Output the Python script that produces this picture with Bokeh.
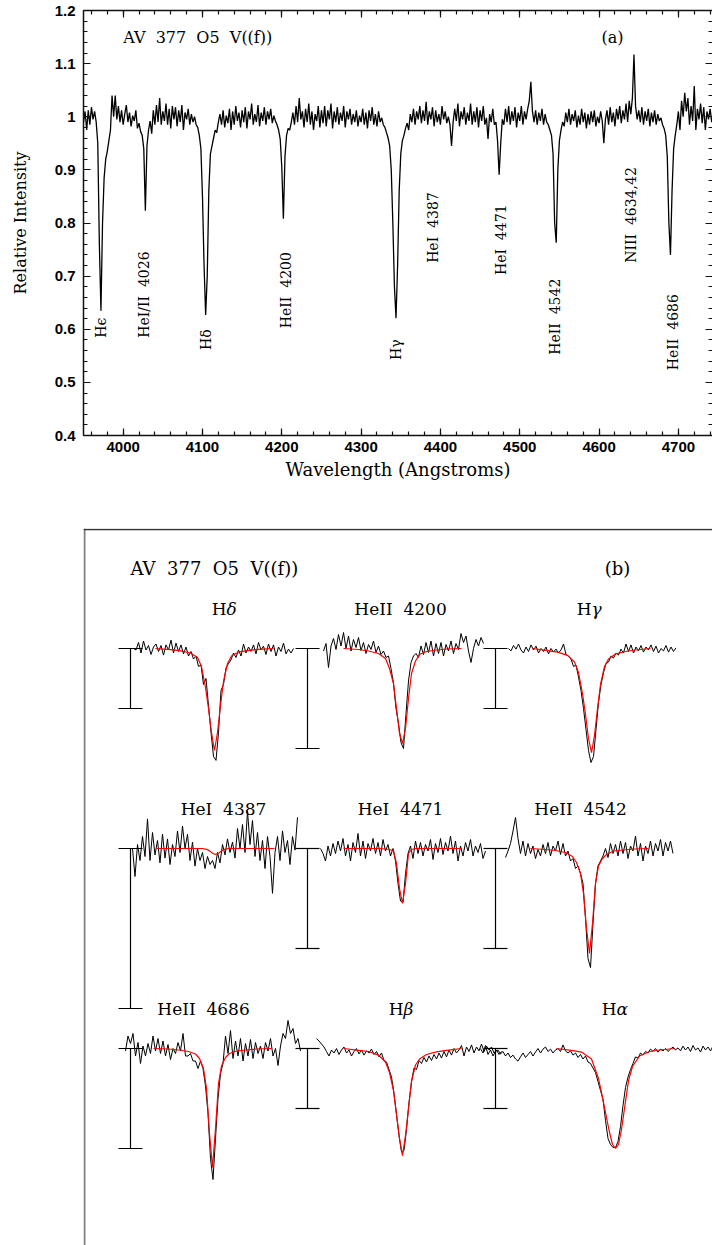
import numpy as np
from bokeh.plotting import figure
from bokeh.models import Range1d, LinearAxis, FixedTicker, Span, ColumnDataSource
from bokeh.layouts import column
from bokeh.embed import file_html
from bokeh.resources import INLINE
from bokeh.core.properties import value

# ---------------- Panel (a): blue spectrum, 3950-4744 A ----------------
WAVE_START = 3950.0
WAVE_STEP = 2.0
FLUX_A = [
    # 3950-4048
    0.990, 1.010, 0.975, 1.012, 0.985, 1.018, 0.995, 1.010, 0.990, 0.950,
    0.760, 0.635, 0.800, 0.885, 0.920, 0.935, 0.955, 0.975, 1.040, 1.000,
    1.040, 0.995, 1.020, 0.990, 1.012, 0.985, 1.005, 1.022, 0.990, 1.008,
    0.982, 1.002, 0.992, 1.012, 0.978, 0.988, 0.972, 0.965, 0.940, 0.823,
    0.945, 0.975, 0.992, 0.968, 1.012, 0.985, 1.022, 0.990, 1.035, 0.985,
    # 4050-4148
    1.010, 0.992, 1.025, 0.985, 1.015, 0.978, 1.020, 0.995, 1.018, 0.982,
    1.012, 0.990, 1.022, 0.975, 1.008, 0.995, 1.015, 0.985, 1.005, 0.990,
    1.000, 0.985, 0.980, 0.965, 0.940, 0.850, 0.720, 0.627, 0.700, 0.860,
    0.930, 0.945, 0.960, 0.975, 0.970, 0.990, 1.005, 0.985, 1.012, 0.980,
    1.002, 0.988, 1.015, 0.975, 1.010, 0.985, 1.020, 0.992, 1.008, 0.980,
    # 4150-4248
    1.012, 0.990, 1.018, 0.978, 1.010, 0.995, 1.025, 0.985, 1.005, 0.990,
    1.022, 0.982, 1.008, 0.992, 1.018, 0.985, 1.010, 0.995, 1.015, 0.988,
    1.002, 0.992, 0.985, 0.975, 0.958, 0.905, 0.808, 0.925, 0.965, 0.978,
    0.975, 0.990, 1.008, 0.985, 1.020, 0.990, 1.035, 0.995, 1.010, 0.980,
    1.015, 0.990, 1.025, 0.985, 1.010, 0.975, 1.005, 0.992, 1.020, 0.980,
    # 4250-4348
    1.012, 0.988, 1.020, 0.982, 1.012, 0.995, 1.025, 0.978, 1.010, 0.990,
    1.018, 0.985, 1.008, 0.992, 1.020, 0.980, 1.010, 0.995, 1.015, 0.985,
    1.005, 0.990, 1.012, 0.982, 1.002, 0.990, 1.015, 0.985, 1.008, 0.978,
    1.012, 0.992, 1.018, 0.985, 1.005, 0.982, 1.010, 0.990, 0.998, 0.985,
    0.980, 0.970, 0.960, 0.945, 0.900, 0.800, 0.680, 0.621, 0.720, 0.860,
    # 4350-4448
    0.930, 0.955, 0.965, 0.978, 0.988, 0.975, 1.005, 0.990, 1.015, 0.985,
    1.010, 0.995, 1.020, 0.988, 1.012, 0.992, 1.028, 0.985, 1.010, 0.995,
    1.018, 0.982, 1.012, 0.990, 1.005, 0.985, 1.020, 0.995, 1.010, 0.988,
    1.000, 0.985, 0.945, 0.990, 1.015, 0.992, 1.025, 0.982, 1.010, 0.995,
    1.018, 0.985, 1.008, 0.992, 1.025, 0.985, 1.010, 0.990, 1.018, 0.980,
    # 4450-4548
    1.012, 0.992, 1.020, 0.985, 0.998, 0.958, 1.005, 0.990, 1.015, 0.985,
    0.990, 0.955, 0.891, 0.950, 0.995, 0.985, 1.015, 0.990, 1.020, 0.985,
    1.010, 0.992, 1.018, 0.980, 1.008, 0.992, 1.020, 0.985, 1.010, 0.995,
    1.015, 1.030, 1.066, 1.010, 0.990, 1.012, 0.985, 1.008, 0.992, 1.015,
    0.985, 1.005, 0.990, 0.985, 0.975, 0.965, 0.930, 0.800, 0.763, 0.900,
    # 4550-4648
    0.955, 0.975, 0.990, 0.982, 1.008, 0.990, 1.015, 0.985, 1.005, 0.992,
    1.012, 0.980, 1.002, 0.985, 1.015, 0.990, 1.008, 0.978, 1.005, 0.985,
    1.010, 0.990, 1.012, 0.982, 1.000, 0.988, 1.010, 0.992, 0.950, 0.995,
    1.012, 0.985, 1.018, 0.990, 1.008, 0.982, 1.015, 0.995, 1.020, 0.988,
    1.012, 0.995, 1.025, 0.990, 1.030, 1.005, 1.035, 1.117, 1.020, 0.995,
    # 4650-4744
    1.012, 0.990, 1.018, 0.985, 1.010, 0.992, 1.015, 0.982, 1.008, 0.990,
    1.012, 0.985, 1.005, 0.992, 0.998, 0.985, 0.978, 0.965, 0.925, 0.800,
    0.740, 0.860, 0.940, 0.965, 0.985, 1.010, 0.975, 1.030, 1.000, 1.045,
    1.010, 1.035, 0.985, 1.020, 0.992, 1.058, 0.975, 1.015, 0.995, 1.025,
    0.988, 1.018, 0.975, 1.010, 0.995, 1.015, 0.990, 1.005,
]

GAP = " \u00a0"   # wide gap between ion and wavelength
LINE_NAMES = ["H\u03f5", "HeI/II" + GAP + "4026", "H\u03b4", "HeII" + GAP + "4200", "H\u03b3",
              "HeI" + GAP + "4387", "HeI" + GAP + "4471", "HeII" + GAP + "4542",
              "NIII" + GAP + "4634,42", "HeII" + GAP + "4686"]
# where each identification is written (wavelength, flux at the text's start)
LINE_LABEL_WAVE = [3972, 4026, 4105, 4205, 4344, 4390, 4476, 4545, 4640, 4693]
LINE_LABEL_FLUX = [0.584, 0.584, 0.561, 0.602, 0.542, 0.725, 0.702, 0.552, 0.725, 0.523]

Y_TICKS = [0.4, 0.5, 0.6, 0.7, 0.8, 0.9, 1.0, 1.1, 1.2]
Y_TICK_TEXT = ["0.4", "0.5", "0.6", "0.7", "0.8", "0.9", "1", "1.1", "1.2"]
X_TICKS = [4000, 4100, 4200, 4300, 4400, 4500, 4600, 4700]

# ---------------- Panel (b): line profiles with model fits ----------------
OBS_STEP = 1.25          # A per observed sample
# observed normalised flux (x1000)
OBS_HDELTA = [1000, 995, 1020, 985, 1025, 995, 1010, 980, 1005, 1015, 990, 1010, 978,
              1012, 995, 1028, 985, 1018, 990, 1012, 982, 1005, 975, 990, 965, 975,
              940, 945, 880, 900, 810, 720, 640, 627, 720, 860, 880, 935, 950, 962,
              985, 970, 995, 975, 1015, 985, 1005, 990, 1012, 982, 1020, 995, 1008,
              980, 1015, 990, 1012, 975, 1005, 990, 1018, 982, 998, 985, 1000]
OBS_HEII4200 = [995, 1010, 962, 1005, 1020, 998, 1028, 1005, 1032, 1000, 1025, 995, 1018,
                1002, 1022, 996, 1012, 990, 1008, 998, 1015, 992, 1005, 988, 995, 982,
                985, 960, 930, 880, 850, 812, 800, 870, 935, 972, 985, 990, 982, 1005,
                988, 1012, 992, 1015, 985, 1010, 990, 1012, 985, 1008, 995, 1015, 990,
                1010, 998, 1030, 1012, 1025, 995, 972, 1000, 1018, 1005, 1022, 1010]
OBS_HGAMMA = [1000, 992, 1010, 998, 1015, 995, 985, 1005, 990, 1012, 995, 1008, 985,
              1000, 990, 1005, 982, 1000, 988, 998, 985, 995, 1015, 980, 975, 965,
              940, 945, 905, 860, 800, 730, 660, 620, 640, 730, 820, 880, 920, 950,
              955, 975, 968, 985, 978, 998, 985, 1015, 990, 1012, 985, 1005, 992,
              1010, 988, 1005, 995, 1012, 990, 1008, 985, 1000, 992, 1010, 988, 1005,
              990, 1002]
OBS_HEI4387 = [1000, 965, 1005, 985, 1015, 990, 1037, 985, 1020, 992, 1010, 982, 1018,
               988, 1012, 980, 1005, 990, 1022, 995, 1028, 1000, 1018, 985, 1008, 978,
               1000, 985, 995, 975, 990, 980, 985, 975, 995, 982, 1005, 992, 1012, 995,
               1008, 988, 1025, 1000, 1030, 995, 1047, 1005, 1035, 990, 1020, 985, 1010,
               975, 1015, 990, 944, 995, 1015, 985, 1022, 995, 1010, 980, 1015, 998, 1039]
OBS_HEI4471 = [1000, 990, 975, 1005, 985, 1010, 990, 1015, 995, 1020, 985, 1008, 975,
               1012, 992, 1030, 985, 1015, 980, 1010, 995, 1020, 990, 1012, 985, 1018,
               995, 1008, 985, 1000, 975, 930, 895, 892, 950, 990, 1005, 980, 1015, 990,
               1012, 985, 1008, 995, 1018, 978, 1010, 992, 1020, 988, 1012, 995, 1025,
               990, 1015, 975, 1005, 985, 1012, 995, 1018, 985, 1005, 992, 1010, 980, 995]
OBS_HEII4542 = [982, 995, 1010, 1035, 1062, 1020, 990, 1015, 985, 1010, 990, 1005, 980,
                998, 985, 1008, 990, 1012, 985, 1005, 995, 1015, 988, 1010, 985, 995,
                975, 980, 960, 965, 950, 930, 860, 780, 762, 850, 930, 965, 975, 985,
                1000, 982, 1010, 990, 1008, 985, 1015, 990, 1012, 980, 1005, 995, 1025,
                985, 1010, 975, 1005, 990, 1015, 985, 1010, 995, 1018, 985, 1012, 995,
                1015, 990]
OBS_HEII4686 = [995, 1025, 1010, 1030, 985, 1012, 970, 1005, 985, 1010, 990, 1025, 995,
                1020, 990, 1015, 985, 1008, 978, 1000, 990, 1012, 995, 1030, 985, 985,
                990, 975, 975, 960, 975, 960, 925, 870, 780, 738, 820, 900, 950, 970,
                1025, 990, 1036, 980, 1015, 985, 1020, 975, 1010, 985, 1018, 980, 1012,
                990, 1005, 980, 1012, 995, 1020, 985, 1000, 966, 1005, 1030, 1020, 1056,
                1030, 1040, 1010, 1020, 995]
OBS_HBETA = [1033, 1025, 1015, 1005, 990, 975, 995, 985, 1000, 980, 995, 1005, 985,
             995, 975, 990, 1000, 982, 995, 978, 992, 985, 998, 980, 990, 972, 985,
             960, 955, 930, 905, 850, 780, 710, 655, 660, 730, 820, 890, 935, 930,
             960, 950, 970, 955, 975, 960, 980, 965, 985, 968, 990, 972, 995, 978,
             1000, 985, 995, 1010, 975, 1005, 990, 1012, 985, 1005, 992, 1015, 990,
             1008, 995, 1005, 985, 995, 980, 990]
OBS_HALPHA = [1000, 985, 1010, 980, 995, 975, 990, 995, 982, 990, 975, 985, 970, 978,
              965, 958, 972, 985, 970, 980, 990, 975, 988, 1000, 985, 998, 1005, 990,
              998, 985, 995, 1000, 990, 1012, 992, 985, 992, 978, 985, 970, 980, 965,
              975, 955, 950, 935, 920, 890, 860, 830, 760, 700, 680, 670, 670, 690,
              740, 810, 870, 905, 930, 950, 972, 968, 985, 978, 990, 985, 998, 990,
              1000, 988, 998, 992, 1000, 990, 998, 1005, 995, 1002, 992, 1008, 995,
              1005, 990, 1010, 995, 1002, 988, 1008, 995, 1005, 992, 1008, 995]
# wavelength offset (A) of the first observed sample of each profile
OBS_START = [-40.5, -39.5, -41.5, -41.5, -41.0, -42.0, -43.5, -43.0, -67.5]

# model fit, sampled at these offsets from line centre (A)
FIT_DLAM = [-29.5, -22, -17, -12, -8.5, -6.5, -4.5, -3, -1.5, 0,
            1.5, 3, 4.5, 6.5, 8.5, 12, 17, 22, 29.5]
FIT_HDELTA = [1.0, 0.996, 0.992, 0.985, 0.970, 0.940, 0.870, 0.800, 0.720, 0.660,
              0.720, 0.810, 0.890, 0.950, 0.975, 0.988, 0.994, 0.997, 1.0]
FIT_HEII4200 = [1.0, 0.998, 0.995, 0.990, 0.980, 0.960, 0.930, 0.880, 0.830, 0.810,
                0.840, 0.900, 0.950, 0.975, 0.988, 0.994, 0.997, 0.999, 1.0]
FIT_HGAMMA = [1.0, 0.993, 0.988, 0.977, 0.955, 0.920, 0.850, 0.780, 0.700, 0.653,
              0.710, 0.800, 0.880, 0.940, 0.965, 0.982, 0.990, 0.995, 1.0]
FIT_HEI4387 = [1.0, 1.0, 1.0, 1.0, 1.0, 1.0, 0.999, 0.997, 0.994, 0.9925,
               0.994, 0.997, 0.999, 1.0, 1.0, 1.0, 1.0, 1.0, 1.0]
FIT_HEI4471 = [1.0, 1.0, 1.0, 1.0, 0.999, 0.998, 0.995, 0.970, 0.920, 0.890,
               0.930, 0.990, 0.998, 1.0, 1.0, 1.0, 1.0, 1.0, 1.0]
FIT_HEII4542 = [1.0, 0.998, 0.996, 0.992, 0.984, 0.972, 0.950, 0.910, 0.840, 0.790,
                0.850, 0.930, 0.965, 0.980, 0.988, 0.995, 0.997, 0.999, 1.0]
FIT_HEII4686 = [1.0, 0.999, 0.997, 0.994, 0.989, 0.980, 0.960, 0.920, 0.830, 0.762,
                0.840, 0.930, 0.965, 0.982, 0.990, 0.995, 0.997, 0.999, 1.0]
FIT_HBETA = [1.0, 0.994, 0.990, 0.978, 0.955, 0.920, 0.860, 0.780, 0.700, 0.643,
             0.710, 0.800, 0.890, 0.945, 0.965, 0.980, 0.989, 0.994, 1.0]
FIT_HALPHA = [1.0, 0.994, 0.988, 0.965, 0.900, 0.837, 0.770, 0.720, 0.680, 0.667,
              0.680, 0.730, 0.800, 0.893, 0.940, 0.975, 0.990, 0.995, 1.0]

# profile names: (roman part, italic Greek part)
PROFILE_NAMES = [("H", "\u03b4"), ("HeII" + GAP + "4200", ""), ("H", "\u03b3"),
                 ("HeI" + GAP + "4387", ""), ("HeI" + GAP + "4471", ""), ("HeII" + GAP + "4542", ""),
                 ("HeII" + GAP + "4686", ""), ("H", "\u03b2"), ("H", "\u03b1")]
OBS_SETS = [OBS_HDELTA, OBS_HEII4200, OBS_HGAMMA, OBS_HEI4387, OBS_HEI4471,
            OBS_HEII4542, OBS_HEII4686, OBS_HBETA, OBS_HALPHA]
FIT_SETS = [FIT_HDELTA, FIT_HEII4200, FIT_HGAMMA, FIT_HEI4387, FIT_HEI4471,
            FIT_HEII4542, FIT_HEII4686, FIT_HBETA, FIT_HALPHA]
BAR_FLUX = 0.2            # length of each flux scale bar

# --- layout of panel (b), in panel units (1 unit = 1 screen pixel) ---
ROW_BASE = [597, 397, 197]                      # continuum level of each row
CENTRE_X = [131, 319, 508, 132, 319, 506, 129, 319, 532]
FLUX_SCALE = [300, 500, 300, 800, 500, 500, 500, 300, 300]   # units per flux unit
BAR_X = [47, 224, 412]
NAME_X = [142, 317, 507, 140, 317, 497, 120, 319, 532]
NAME_DY = 40
X_SCALE = 2.0                                    # units per A

SERIF = value("DejaVu Serif")

# ================= panel (a) =================
wave = WAVE_START + WAVE_STEP * np.arange(len(FLUX_A))

pa = figure(width=712, height=500, x_range=Range1d(3950, 4743), y_range=Range1d(0.4, 1.2),
            output_backend="svg", toolbar_location=None,
            min_border_left=82, min_border_right=0, min_border_top=10, min_border_bottom=65)
pa.grid.visible = False
pa.outline_line_color = None
pa.background_fill_color = "white"
pa.line(wave, FLUX_A, line_color="black", line_width=1.3)

src_lab = ColumnDataSource(dict(x=LINE_LABEL_WAVE, y=LINE_LABEL_FLUX, t=LINE_NAMES))
pa.text(x="x", y="y", text="t", source=src_lab, angle=np.pi / 2,
        text_align="left", text_baseline="middle", text_font=SERIF,
        text_font_size="14px", text_color="black")
pa.text(x=[4000], y=[1.150], text=["AV" + GAP + "377" + GAP + "O5" + GAP + "V((f))"],
        text_align="left", text_baseline="middle", text_font=SERIF,
        text_font_size="16px", text_color="black")
pa.text(x=[4617], y=[1.150], text=["(a)"], text_align="center",
        text_baseline="middle", text_font=SERIF, text_font_size="16px", text_color="black")

y_minor = [round(0.4 + 0.02 * i, 2) for i in range(41)]
x_minor = list(range(3960, 4744, 20))


def style(ax, ticks, minor, show_labels):
    ax.ticker = FixedTicker(ticks=ticks, minor_ticks=minor)
    ax.major_tick_in = 7
    ax.major_tick_out = 0
    ax.minor_tick_in = 4
    ax.minor_tick_out = 0
    ax.axis_line_width = 1.5
    ax.axis_line_color = "#111111"
    ax.major_tick_line_width = 1.2
    ax.minor_tick_line_width = 1.2
    ax.major_tick_line_color = "#111111"
    ax.minor_tick_line_color = "#111111"
    if show_labels:
        ax.major_label_text_font = "Liberation Sans"
        ax.major_label_text_font_style = "bold"
        ax.major_label_text_font_size = "15px"
        ax.major_label_text_color = "black"
        ax.axis_label_text_font = "DejaVu Serif"
        ax.axis_label_text_font_style = "normal"
        ax.axis_label_text_color = "black"
    else:
        ax.major_label_overrides = {t: "" for t in ticks}
        ax.major_label_standoff = 0


style(pa.xaxis[0], X_TICKS, x_minor, True)
pa.xaxis[0].axis_label = "Wavelength (Angstroms)"
pa.xaxis[0].axis_label_text_font_size = "18px"
pa.xaxis[0].major_label_standoff = 6
pa.xaxis[0].axis_label_standoff = 4

style(pa.yaxis[0], Y_TICKS, y_minor, True)
pa.yaxis[0].axis_label = "Relative Intensity"
pa.yaxis[0].axis_label_text_font_size = "16px"
pa.yaxis[0].major_label_overrides = dict(zip(Y_TICKS, Y_TICK_TEXT))
pa.yaxis[0].major_label_standoff = 8
pa.yaxis[0].axis_label_standoff = 22

top_ax = LinearAxis()
style(top_ax, X_TICKS, x_minor, False)
pa.add_layout(top_ax, "above")
right_ax = LinearAxis()
style(right_ax, Y_TICKS, y_minor, False)
right_ax.axis_line_color = None
pa.add_layout(right_ax, "right")

# ================= panel (b) =================
pb = figure(width=712, height=745, x_range=Range1d(0, 629), y_range=Range1d(0, 717),
            output_backend="svg", toolbar_location=None,
            x_axis_location=None, y_axis_location=None,
            min_border_left=83, min_border_right=0, min_border_top=28, min_border_bottom=0)
pb.grid.visible = False
pb.outline_line_color = None
pb.add_layout(Span(location=1, dimension="height", line_color="#808080", line_width=2))
pb.add_layout(Span(location=716, dimension="width", line_color="#333333", line_width=1.5))

fit_dlam = np.array(FIT_DLAM)
for k, (obs, fit) in enumerate(zip(OBS_SETS, FIT_SETS)):
    base = ROW_BASE[k // 3]
    cx = CENTRE_X[k]
    s = FLUX_SCALE[k]
    obs_flux = np.array(obs) / 1000.0
    obs_dlam = OBS_START[k] + OBS_STEP * np.arange(len(obs))
    pb.line(cx + X_SCALE * obs_dlam, base + (obs_flux - 1.0) * s,
            line_color="black", line_width=1.0)
    pb.line(cx + X_SCALE * fit_dlam, base + (np.array(fit) - 1.0) * s,
            line_color="#ff0000", line_width=1.2)
    # flux scale bar
    bx = BAR_X[k % 3]
    bot = base - BAR_FLUX * s
    pb.segment(x0=[bx, bx - 12, bx - 12], y0=[base, base, bot],
               x1=[bx, bx + 12, bx + 12], y1=[bot, base, bot],
               line_color="black", line_width=1.2)
    roman, greek = PROFILE_NAMES[k]
    if greek:
        pb.text(x=[NAME_X[k] + 1], y=[base + NAME_DY], text=[roman],
                text_align="right", text_baseline="middle", text_font=SERIF,
                text_font_size="17px", text_color="black")
        pb.text(x=[NAME_X[k] + 1], y=[base + NAME_DY], text=[greek],
                text_align="left", text_baseline="middle", text_font=SERIF,
                text_font_style="italic", text_font_size="17px", text_color="black")
    else:
        pb.text(x=[NAME_X[k]], y=[base + NAME_DY], text=[roman],
                text_align="center", text_baseline="middle", text_font=SERIF,
                text_font_size="17px", text_color="black")

pb.text(x=[47], y=[677], text=["AV" + GAP + "377" + GAP + "O5" + GAP + "V((f))"],
        text_align="left", text_baseline="middle", text_font=SERIF,
        text_font_size="18px", text_color="black")
pb.text(x=[534], y=[677], text=["(b)"], text_align="center",
        text_baseline="middle", text_font=SERIF, text_font_size="18px", text_color="black")

layout = column(pa, pb, spacing=0)
open("out.html", "w").write(file_html(layout, INLINE))
